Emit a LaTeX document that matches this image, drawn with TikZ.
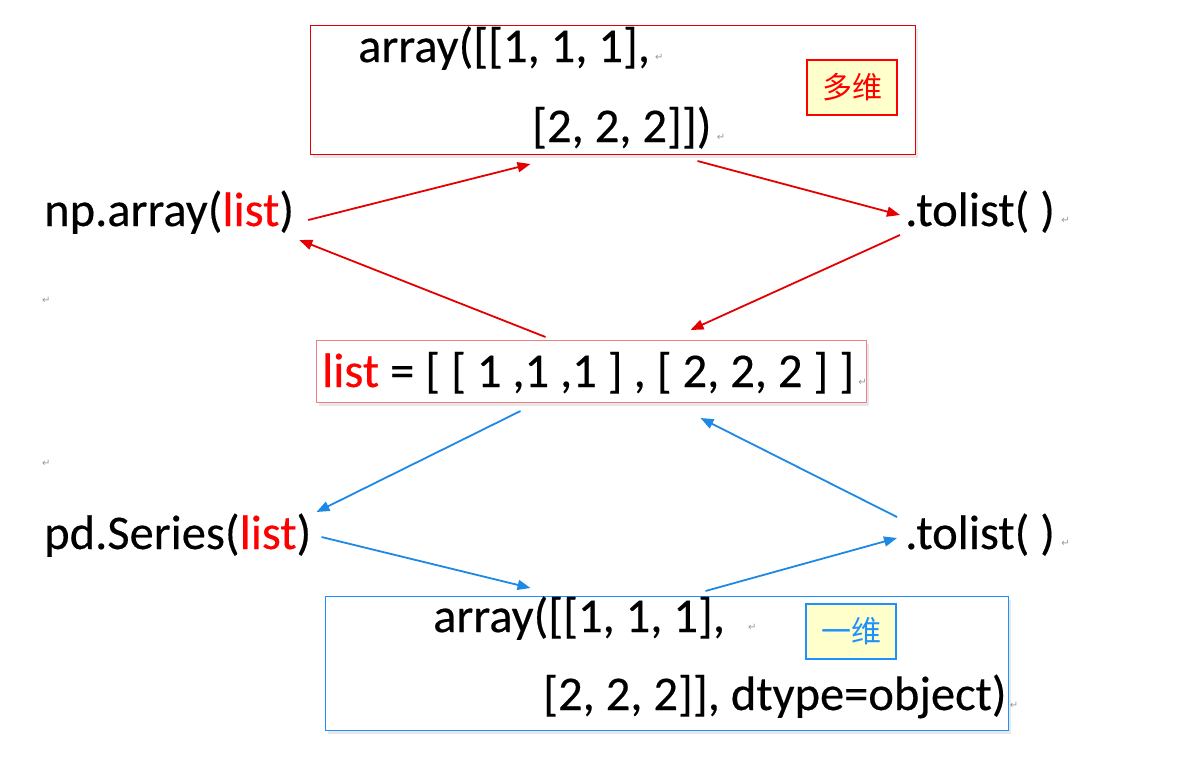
\documentclass[tikz,border=0pt]{standalone}
\usepackage{fontspec}
\setmainfont{Carlito}[FakeBold=0.35]
\newfontfamily\cjk{Noto Sans CJK SC}
\newfontfamily\symf{DejaVu Sans}
\usetikzlibrary{arrows.meta,shadows}
\definecolor{rd}{RGB}{228,0,0}
\definecolor{txtred}{RGB}{255,0,0}
\definecolor{bl}{RGB}{30,136,229}
\definecolor{bbox}{RGB}{30,144,255}
\definecolor{pinkb}{RGB}{240,128,128}
\definecolor{lblfill}{RGB}{255,255,204}
\newcommand{\retmark}{{\symf\fontsize{10}{10}\selectfont\color{gray!80}↵}}
\begin{document}
\begin{tikzpicture}[x=1pt,y=-1pt,
  txt/.style={inner sep=0pt, anchor=base west, font=\fontsize{48.5}{58}\selectfont},
  retn/.style={inner sep=0pt, anchor=base west},
  frame/.style={draw, line width=1pt, inner sep=0pt, fill=white, anchor=north west,
    drop shadow={opacity=0.18, shadow xshift=2pt, shadow yshift=-3pt}},
  lbl/.style={draw, line width=2pt, fill=lblfill, minimum width=90pt, minimum height=55pt,
    inner sep=0pt, font=\cjk\fontsize{30}{30}\selectfont},
  rarr/.style={draw=rd, line width=1.8pt, -{Triangle[length=13pt,width=10pt]}},
  barr/.style={draw=bl, line width=1.8pt, -{Triangle[length=13pt,width=10pt]}}
]
\useasboundingbox (0,0) rectangle (1202,761);

% frames
\node[frame, draw=rd, minimum width=605pt, minimum height=129pt] (top) at (310,25) {};
\node[frame, draw=pinkb, minimum width=550pt, minimum height=62pt] (mid) at (316,340) {};
\node[frame, draw=bbox, minimum width=683pt, minimum height=134pt] (bot) at (325,596) {};

% top box text
\node[txt] (t1) at (358,62) {array([[1, 1, 1],};
\node[retn] (r1) at ([xshift=5pt,yshift=2pt]t1.base east) {\retmark};
\node[txt] (t2) at (532,142) {[2, 2, 2]])};
\node[retn] (r2) at ([xshift=5pt,yshift=2pt]t2.base east) {\retmark};
\node[lbl, draw=txtred, text=txtred] (lmulti) at (852,87) {多维};

% side texts upper
\node[txt] (npa) at (44,226) {np.array(\textcolor{txtred}{list})};
\node[txt] (tl1) at (905,226) {.tolist( )};
\node[retn] (r3) at ([xshift=6pt,yshift=3pt]tl1.base east) {\retmark};

\node[retn] (r4) at (42,303) {\retmark};

% middle
\node[txt] (lst) at (322,387) {\textcolor{txtred}{list} = [ [ 1 ,1 ,1 ] , [ 2, 2, 2 ] ]};
\node[retn] (r5) at ([xshift=4pt,yshift=2pt]lst.base east) {\retmark};

\node[retn] (r6) at (42,466) {\retmark};

% side texts lower
\node[txt] (pds) at (44,549) {pd.Series(\textcolor{txtred}{list})};
\node[txt] (tl2) at (905,549) {.tolist( )};
\node[retn] (r7) at ([xshift=6pt,yshift=3pt]tl2.base east) {\retmark};

% bottom box text
\node[txt] (b1) at (433,632) {array([[1, 1, 1],};
\node[retn] (r8) at (748,630) {\retmark};
\node[txt] (b2) at (543,710) {[2, 2, 2]], dtype=object)};
\node[retn] (r9) at ([xshift=3pt,yshift=2pt]b2.base east) {\retmark};
\node[lbl, draw=bbox, text=bbox] (lone) at (851,631.5) {一维};

% red arrows
\draw[rarr] ([xshift=14pt,yshift=6pt]npa.base east) -- ([xshift=-82.5pt,yshift=-9pt]top.south);
\draw[rarr] ([xshift=84.5pt,yshift=-6pt]top.south) -- ([xshift=-5pt,yshift=11pt]tl1.base west);
\draw[rarr] ([xshift=-5pt,yshift=-9pt]tl1.base west) -- ([xshift=99pt,yshift=10pt]mid.north);
\draw[rarr] ([xshift=-46pt,yshift=3pt]mid.north) -- ([xshift=5pt,yshift=-14pt]npa.base east);

% blue arrows
\draw[barr] ([xshift=-71pt,yshift=-8pt]mid.south) -- ([xshift=5pt,yshift=37pt]pds.base east);
\draw[barr] ([xshift=-8pt,yshift=32pt]tl2.base west) -- ([xshift=109pt,yshift=-15pt]mid.south);
\draw[barr] ([xshift=10pt,yshift=12pt]pds.base east) -- ([xshift=-136.5pt,yshift=8pt]bot.north);
\draw[barr] ([xshift=38.5pt,yshift=5pt]bot.north) -- ([xshift=-8pt,yshift=11pt]tl2.base west);
\end{tikzpicture}
\end{document}
